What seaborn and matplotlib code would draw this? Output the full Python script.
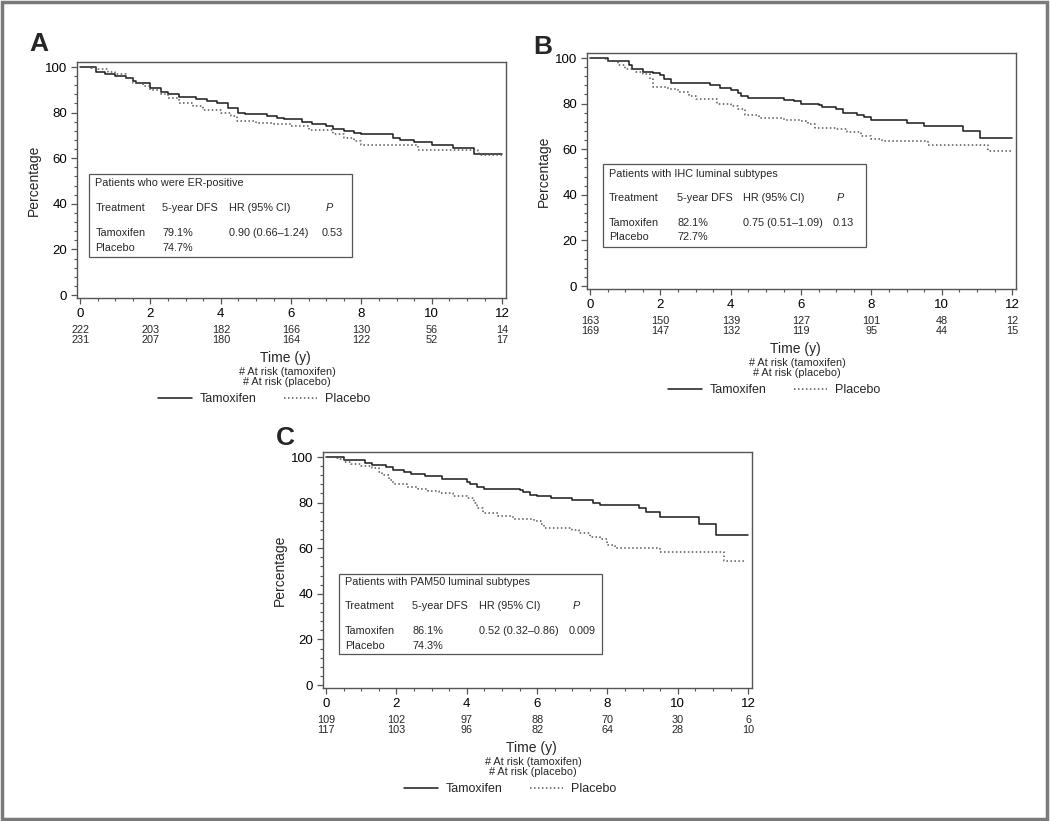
import pandas as pd
import numpy as np
import matplotlib
matplotlib.use("Agg")
import matplotlib.pyplot as plt
from matplotlib import font_manager
from matplotlib.patches import Rectangle
from matplotlib.ticker import MultipleLocator
import seaborn as sns


# ---- data ---- #
years = [0, 2, 4, 6, 8, 10, 12]

# panel A - ER-positive
a_tam_t = [0, 0.45, 0.7, 1.0, 1.3, 1.5, 1.6, 2.0, 2.3, 2.5, 2.8, 3.3, 3.6, 3.9, 4.2, 4.5, 4.7, 5.3,
           5.6, 5.8, 6.3, 6.6, 7.0, 7.2, 7.5, 7.8, 8.0, 8.9, 9.1, 9.5, 10.0, 10.6, 11.2, 12.0]
a_tam_s = [100, 98, 97, 96, 95, 94, 93, 91, 89, 88, 87, 86, 85, 84, 82, 80, 79.5, 78.5,
           77.5, 77, 76, 75, 74, 73, 72, 71, 70.5, 69, 68, 67, 66, 64.5, 61.8, 61.8]
a_pla_t = [0, 0.3, 0.5, 0.8, 1.0, 1.3, 1.5, 1.8, 2.0, 2.3, 2.5, 2.8, 3.2, 3.5, 4.0, 4.3, 4.45, 5.0,
           5.5, 6.0, 6.5, 7.2, 7.5, 7.8, 8.0, 9.6, 11.3, 11.35, 12.0]
a_pla_s = [100, 99.5, 99, 98, 97, 95, 93, 91.5, 90, 88, 86.5, 84, 83, 81, 80, 78.5, 76.5, 75.5,
           75, 74, 72.5, 70.5, 69, 67.5, 66, 63.8, 63, 61.5, 61.5]
a_risk_tam = [222, 203, 182, 166, 130, 56, 14]
a_risk_pla = [231, 207, 180, 164, 122, 52, 17]

# panel B - IHC luminal
b_tam_t = [0, 0.5, 1.1, 1.2, 1.5, 1.8, 2.0, 2.1, 2.3, 3.4, 3.7, 4.0, 4.2, 4.3, 4.5, 5.5, 5.8,
           6.0, 6.5, 6.6, 7.0, 7.2, 7.6, 7.8, 8.0, 9.0, 9.5, 10.6, 11.1, 12.0]
b_tam_s = [100, 98.5, 97, 95, 94, 93.5, 92.5, 91, 89, 88, 87, 86, 84.5, 83.5, 82.5, 81.5, 81,
           80, 79.5, 78.5, 77.5, 76, 75, 74, 73, 71.5, 70, 67.8, 65, 65]
b_pla_t = [0, 0.4, 0.5, 0.8, 1.0, 1.3, 1.5, 1.7, 1.8, 2.2, 2.5, 2.8, 3.0, 3.6, 4.0, 4.2, 4.4,
           4.8, 5.5, 6.0, 6.2, 6.4, 7.0, 7.3, 7.7, 8.0, 8.3, 9.6, 11.3, 12.0]
b_pla_s = [100, 99.5, 98.5, 97, 95, 94, 93, 91, 87.5, 86.5, 85, 83.5, 82, 80, 79, 77.5, 75,
           73.5, 73, 72.5, 71, 69.5, 69, 67.5, 66, 64.5, 63.5, 62, 59.2, 59.2]
b_risk_tam = [163, 150, 139, 127, 101, 48, 12]
b_risk_pla = [169, 147, 132, 119, 95, 44, 15]

# panel C - PAM50 luminal
c_tam_t = [0, 0.5, 1.1, 1.3, 1.7, 1.9, 2.2, 2.4, 2.8, 3.3, 4.0, 4.1, 4.3, 4.5, 5.5, 5.6, 5.8,
           6.0, 6.4, 7.0, 7.6, 7.8, 8.9, 9.1, 9.5, 10.6, 11.1, 12.0]
c_tam_s = [100, 98.5, 97.5, 96.5, 95.5, 94.5, 93.5, 92.5, 91.5, 90.5, 89, 88, 87, 86, 85.5, 84.5,
           83.5, 83, 82, 81, 80, 79, 77.5, 75.8, 73.7, 70.5, 65.8, 65.8]
c_pla_t = [0, 0.3, 0.4, 0.5, 0.7, 1.0, 1.3, 1.5, 1.6, 1.8, 1.9, 2.3, 2.6, 2.9, 3.2, 3.6, 4.0,
           4.2, 4.3, 4.45, 4.9, 5.3, 5.9, 6.1, 6.2, 7.0, 7.2, 7.5, 7.8, 8.0, 8.2, 9.5, 11.3, 11.95]
c_pla_s = [100, 99.5, 99, 98, 97, 96, 95, 93.5, 92, 90, 88, 87, 86, 85, 84, 83, 82,
           80, 77.5, 75.5, 74.2, 73, 72, 70.5, 69, 68, 66.5, 65, 64, 61.5, 60, 58.3, 54.3, 54.3]
c_risk_tam = [109, 102, 97, 88, 70, 30, 6]
c_risk_pla = [117, 103, 96, 82, 64, 28, 10]

# inset tables
a_table = ["Patients who were ER-positive", "79.1%", "0.90 (0.66\u20131.24)", "0.53", "74.7%"]
b_table = ["Patients with IHC luminal subtypes", "82.1%", "0.75 (0.51\u20131.09)", "0.13", "72.7%"]
c_table = ["Patients with PAM50 luminal subtypes", "86.1%", "0.52 (0.32\u20130.86)", "0.009", "74.3%"]


# ---- style ---- #
sns.set_theme(style="ticks")
plt.rcParams["font.family"] = ["Liberation Sans", "DejaVu Sans"]
plt.rcParams["axes.edgecolor"] = "#555555"
plt.rcParams["xtick.color"] = "#555555"
plt.rcParams["ytick.color"] = "#555555"
plt.rcParams["xtick.labelcolor"] = "black"
plt.rcParams["ytick.labelcolor"] = "black"

# tick numbers in the original are a narrow face
installed = {f.name for f in font_manager.fontManager.ttflist}
tick_font = "Liberation Sans Narrow" if "Liberation Sans Narrow" in installed else "Liberation Sans"
tick_size = 11 if tick_font == "Liberation Sans Narrow" else 9.5

fig = plt.figure(figsize=(10.5, 8.21), dpi=100)
W, H = 1050, 821
PX = 0.72  # px -> pt


def km_frame(tam_t, tam_s, pla_t, pla_s):
    d1 = pd.DataFrame({"time": tam_t, "surv": tam_s, "arm": "Tamoxifen"})
    d2 = pd.DataFrame({"time": pla_t, "surv": pla_s, "arm": "Placebo"})
    return pd.concat([d1, d2], ignore_index=True)


def panel(left, top, label, lab_xy, df, risk_tam, risk_pla, table, box, rows, cols):
    # left/top in pixels of the axes frame
    ax = fig.add_axes([left / W, 1 - (top + 236) / H, 429 / W, 236 / H])
    sns.lineplot(data=df, x="time", y="surv", hue="arm", style="arm",
                 palette={"Tamoxifen": "#1a1a1a", "Placebo": "#555555"},
                 dashes={"Tamoxifen": "", "Placebo": (1, 1.6)},
                 drawstyle="steps-post", estimator=None, linewidth=1.1, ax=ax)
    ax.set_xlim(-0.09, 12.11)
    ax.set_ylim(-1.3, 102.2)
    ax.set_xticks(years)
    ax.set_yticks([0, 20, 40, 60, 80, 100])
    ax.xaxis.set_minor_locator(MultipleLocator(0.5))
    ax.yaxis.set_minor_locator(MultipleLocator(4))
    ax.tick_params(which="major", length=4, width=0.9, labelsize=tick_size, pad=3)
    ax.tick_params(which="minor", length=2.2, width=0.8)
    for t in ax.get_xticklabels() + ax.get_yticklabels():
        t.set_family(tick_font)
    for s in ax.spines.values():
        s.set_visible(True)
        s.set_linewidth(1.0)
    ax.set_xlabel("")
    ax.set_ylabel("Percentage", fontsize=10, labelpad=3)

    # at-risk numbers
    for x, n1, n2 in zip(years, risk_tam, risk_pla):
        ax.annotate(str(n1), xy=(x, 0), xycoords=("data", "axes fraction"),
                    xytext=(0, -32 * PX), textcoords="offset points",
                    ha="center", va="center", fontsize=7.8)
        ax.annotate(str(n2), xy=(x, 0), xycoords=("data", "axes fraction"),
                    xytext=(0, -42 * PX), textcoords="offset points",
                    ha="center", va="center", fontsize=7.8)
    ax.annotate("Time (y)", xy=(0.485, 0), xycoords="axes fraction",
                xytext=(0, -60 * PX), textcoords="offset points",
                ha="center", va="center", fontsize=10)
    ax.annotate("# At risk (tamoxifen)", xy=(0.49, 0), xycoords="axes fraction",
                xytext=(0, -74 * PX), textcoords="offset points",
                ha="center", va="center", fontsize=7.8)
    ax.annotate("# At risk (placebo)", xy=(0.49, 0), xycoords="axes fraction",
                xytext=(0, -84 * PX), textcoords="offset points",
                ha="center", va="center", fontsize=7.8)

    sns.move_legend(ax, "center", bbox_to_anchor=(0.436, -101 / 236), ncol=2,
                    frameon=False, title=None, fontsize=9, handlelength=2.7,
                    columnspacing=2.2, handletextpad=0.6)

    # inset table
    x0, x1, y0, y1 = box
    ax.add_patch(Rectangle((x0, y0), x1 - x0, y1 - y0, fill=False,
                           edgecolor="#555555", linewidth=0.9))
    fs = 7.8
    ax.text(cols[0], rows[0], table[0], fontsize=fs, va="center")
    ax.text(cols[0], rows[1], "Treatment", fontsize=fs, va="center")
    ax.text(cols[1], rows[1], "5-year DFS", fontsize=fs, va="center")
    ax.text(cols[2], rows[1], "HR (95% CI)", fontsize=fs, va="center")
    ax.text(cols[3] + 0.1, rows[1], "P", fontsize=fs, va="center", style="italic")
    ax.text(cols[0], rows[2], "Tamoxifen", fontsize=fs, va="center")
    ax.text(cols[1], rows[2], table[1], fontsize=fs, va="center")
    ax.text(cols[2], rows[2], table[2], fontsize=fs, va="center")
    ax.text(cols[3], rows[2], table[3], fontsize=fs, va="center")
    ax.text(cols[0], rows[3], "Placebo", fontsize=fs, va="center")
    ax.text(cols[1], rows[3], table[4], fontsize=fs, va="center")

    fig.text(lab_xy[0] / W, 1 - lab_xy[1] / H, label, fontsize=19, fontweight="bold",
             ha="center", va="center")
    return ax


panel(77, 62, "A", (39, 44), km_frame(a_tam_t, a_tam_s, a_pla_t, a_pla_s),
      a_risk_tam, a_risk_pla, a_table,
      (0.26, 7.73, 16.7, 53.3), (49.3, 38.3, 27.3, 20.7), (0.43, 2.33, 4.24, 6.88))
panel(587, 53, "B", (543, 47), km_frame(b_tam_t, b_tam_s, b_pla_t, b_pla_s),
      b_risk_tam, b_risk_pla, b_table,
      (0.37, 7.85, 17.0, 53.5), (49.1, 38.7, 27.8, 21.3), (0.54, 2.47, 4.35, 6.90))
panel(323, 452, "C", (285, 438), km_frame(c_tam_t, c_tam_s, c_pla_t, c_pla_s),
      c_risk_tam, c_risk_pla, c_table,
      (0.37, 7.85, 13.4, 48.9), (45.0, 34.6, 23.8, 17.3), (0.54, 2.45, 4.35, 6.90))

# grey frame round the whole figure
fig.patches.append(Rectangle((0.0015, 0.002), 0.996, 0.996, transform=fig.transFigure,
                             fill=False, edgecolor="#7a7a7a", linewidth=2.5))

fig.savefig("out.png", dpi=100)
